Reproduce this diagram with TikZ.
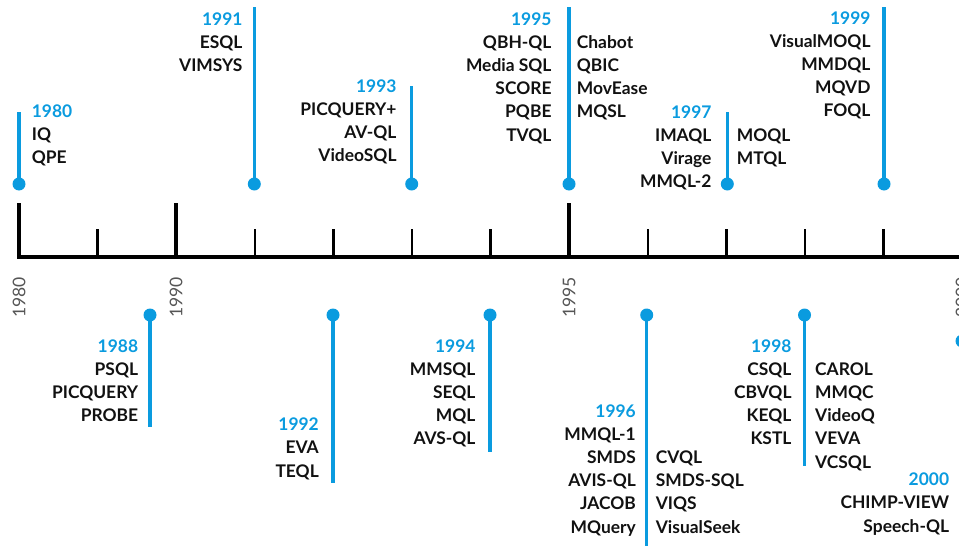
\documentclass[tikz,border=0pt]{standalone}
\usepackage{fontspec}
\setmainfont{Lato}
\definecolor{tlblue}{HTML}{0A9BDF}
\definecolor{tlgray}{HTML}{555555}
\definecolor{tltext}{HTML}{111111}
\newcommand\tlcolumn[5]{%
  \foreach \t [count=\i from 0] in {#5} {%
    \node[lbl, anchor=#4] (#1-\i) at (#2, {#3+23.2*\i}) {\t};}}
\begin{document}
\begin{tikzpicture}[x=1pt,y=-1pt,
  lbl/.style={inner sep=0pt, font=\fontsize{17.4}{20}\selectfont\bfseries, text=tltext},
  yr/.style={lbl, text=tlblue},
  axlbl/.style={inner sep=0pt, font=\fontsize{17.5}{20}\selectfont, text=tlgray, rotate=90, anchor=east},
  stem/.style={draw=tlblue, line width=3.5pt},
  dot/.style={circle, fill=tlblue, inner sep=0pt, minimum size=13pt},
  axisline/.style={line width=4pt, draw=black},
  majortick/.style={line width=4pt, draw=black},
  minortick/.style={line width=2.5pt, draw=black}]
\useasboundingbox (0,0) rectangle (959,546);
% axis
\draw[axisline] (17,257) -- (959,257);
\foreach \k in {0,2,7,12} \draw[majortick] ({19+78.6*\k},203) -- ({19+78.6*\k},257);
\foreach \k in {1,3,4,5,6,8,9,10,11} \draw[minortick] ({19+78.6*\k},229) -- ({19+78.6*\k},257);
\node[axlbl] (a1980) at (19,277) {1980};
\node[axlbl] (a1990) at (176.2,277) {1990};
\node[axlbl] (a1995) at (569.2,277) {1995};
\node[axlbl] (a2000) at (962.2,277) {2000};
% ---- top events
% 1980
\node[dot] (d1980) at (19,184) {};
\coordinate (s1980) at (19,112);
\draw[stem] (d1980.center) -- (s1980);
\node[yr, anchor=base west] (y1980) at (31.7,117) {1980};
\tlcolumn{c1980}{31.7}{140.5}{base west}{IQ,QPE}
% 1991
\node[dot] (d1991) at (254.3,184) {};
\coordinate (s1991) at (254.3,7);
\draw[stem] (d1991.center) -- (s1991);
\node[yr, anchor=base east] (y1991) at (242.7,25) {1991};
\tlcolumn{c1991}{242.7}{48.2}{base east}{ESQL,VIMSYS}
% 1993
\node[dot] (d1993) at (411.7,184) {};
\coordinate (s1993) at (411.7,86);
\draw[stem] (d1993.center) -- (s1993);
\node[yr, anchor=base east] (y1993) at (396.7,92) {1993};
\tlcolumn{c1993}{396.7}{115.2}{base east}{PICQUERY+,AV-QL,VideoSQL}
% 1995
\node[dot] (d1995) at (569,184) {};
\coordinate (s1995) at (569,7);
\draw[stem] (d1995.center) -- (s1995);
\node[yr, anchor=base east] (y1995) at (551.7,25) {1995};
\tlcolumn{c1995a}{551.7}{48.2}{base east}{QBH-QL,Media SQL,SCORE,PQBE,TVQL}
\tlcolumn{c1995b}{576.7}{48.2}{base west}{Chabot,QBIC,MovEase,MQSL}
% 1997
\node[dot] (d1997) at (727.3,184) {};
\coordinate (s1997) at (727.3,112);
\draw[stem] (d1997.center) -- (s1997);
\node[yr, anchor=base east] (y1997) at (711.7,118) {1997};
\tlcolumn{c1997a}{711.7}{141.2}{base east}{IMAQL,Virage,MMQL-2}
\tlcolumn{c1997b}{736.7}{141.2}{base west}{MOQL,MTQL}
% 1999
\node[dot] (d1999) at (884,184) {};
\coordinate (s1999) at (884,7);
\draw[stem] (d1999.center) -- (s1999);
\node[yr, anchor=base east] (y1999) at (870.7,24) {1999};
\tlcolumn{c1999}{870.7}{47.2}{base east}{VisualMOQL,MMDQL,MQVD,FOQL}
% ---- bottom events
% 1988
\node[dot] (d1988) at (150,315) {};
\coordinate (s1988) at (150,427);
\draw[stem] (d1988.center) -- (s1988);
\node[yr, anchor=base east] (y1988) at (138.3,352) {1988};
\tlcolumn{c1988}{138.3}{375.2}{base east}{PSQL,PICQUERY,PROBE}
% 1992
\node[dot] (d1992) at (333,315) {};
\coordinate (s1992) at (333,483);
\draw[stem] (d1992.center) -- (s1992);
\node[yr, anchor=base east] (y1992) at (319,430.7) {1992};
\tlcolumn{c1992}{319}{453.9}{base east}{EVA,TEQL}
% 1994
\node[dot] (d1994) at (490,315) {};
\coordinate (s1994) at (490,452);
\draw[stem] (d1994.center) -- (s1994);
\node[yr, anchor=base east] (y1994) at (475.7,352) {1994};
\tlcolumn{c1994}{475.7}{375.2}{base east}{MMSQL,SEQL,MQL,AVS-QL}
% 1996
\node[dot] (d1996) at (646.7,315) {};
\coordinate (s1996) at (646.7,546);
\draw[stem] (d1996.center) -- (s1996);
\node[yr, anchor=base east] (y1996) at (636,417) {1996};
\tlcolumn{c1996a}{636}{440.2}{base east}{MMQL-1,SMDS,AVIS-QL,JACOB,MQuery}
\tlcolumn{c1996b}{655.7}{463.4}{base west}{CVQL,SMDS-SQL,VIQS,VisualSeek}
% 1998
\node[dot] (d1998) at (804.5,315) {};
\coordinate (s1998) at (804.5,466);
\draw[stem] (d1998.center) -- (s1998);
\node[yr, anchor=base east] (y1998) at (791.7,352) {1998};
\tlcolumn{c1998a}{791.7}{375.2}{base east}{CSQL,CBVQL,KEQL,KSTL}
\tlcolumn{c1998b}{815}{375.2}{base west}{CAROL,MMQC,VideoQ,VEVA,VCSQL}
% 2000
\node[dot] (d2000) at (962,341) {};
\node[yr, anchor=base east] (y2000) at (949.3,485.7) {2000};
\tlcolumn{c2000}{949.3}{508.9}{base east}{CHIMP-VIEW,Speech-QL}
\end{tikzpicture}
\end{document}
